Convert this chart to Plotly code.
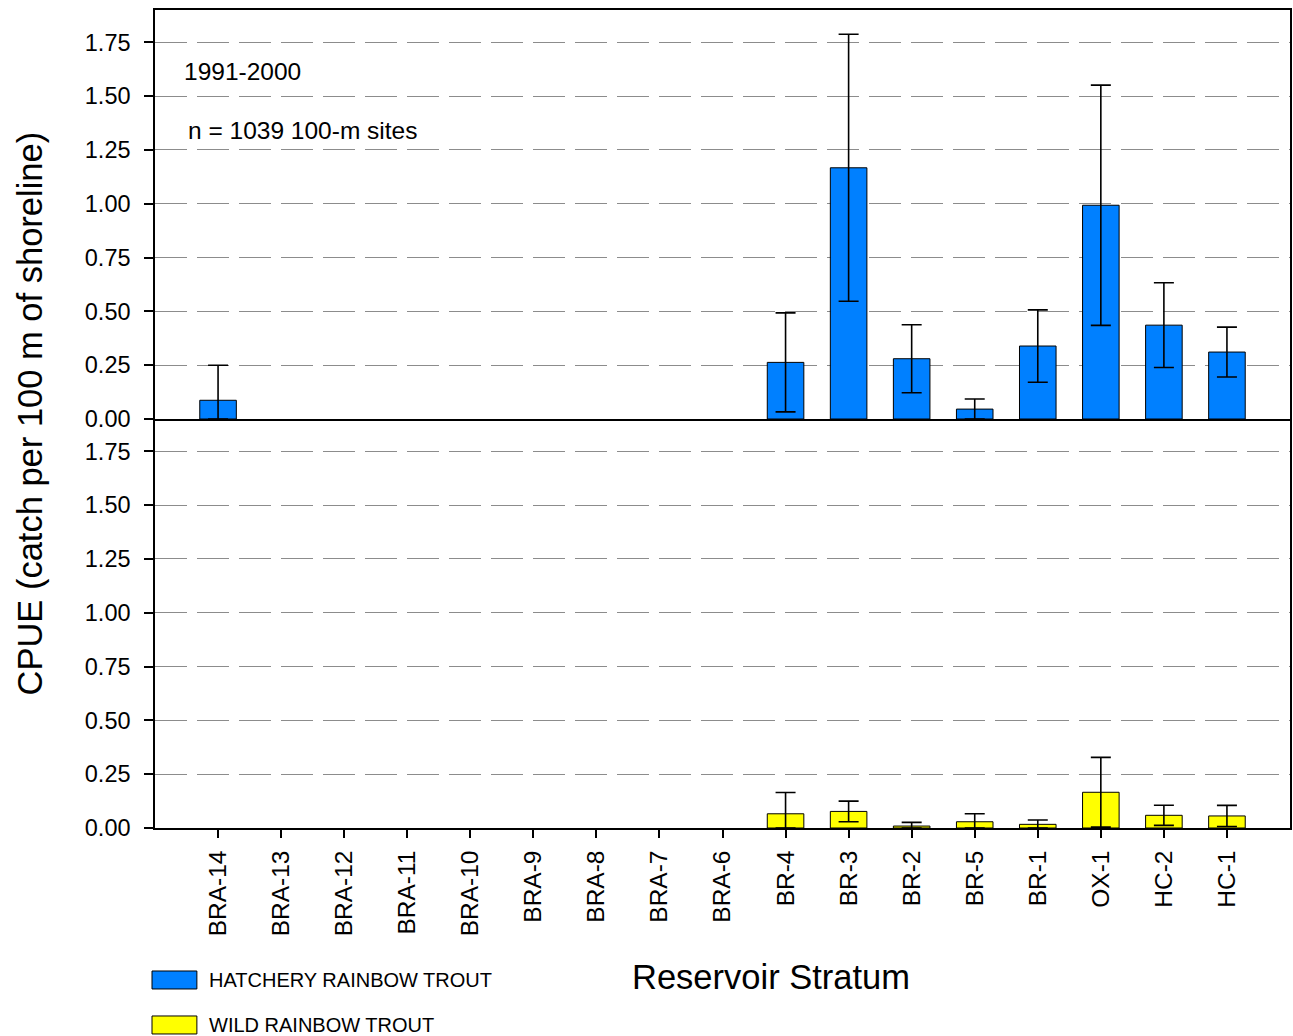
import numpy as np
import plotly.graph_objects as go
from plotly.subplots import make_subplots

categories = ["BRA-14", "BRA-13", "BRA-12", "BRA-11", "BRA-10", "BRA-9", "BRA-8", "BRA-7",
              "BRA-6", "BR-4", "BR-3", "BR-2", "BR-5", "BR-1", "OX-1", "HC-2", "HC-1"]

hatchery_cpue = [0.087, 0, 0, 0, 0, 0, 0, 0, 0, 0.263, 1.167, 0.280, 0.046, 0.339, 0.993, 0.436, 0.311]
hatchery_err = [0.163, 0, 0, 0, 0, 0, 0, 0, 0, 0.230, 0.620, 0.158, 0.047, 0.168, 0.558, 0.197, 0.116]

wild_cpue = [0, 0, 0, 0, 0, 0, 0, 0, 0, 0.066, 0.077, 0.009, 0.029, 0.017, 0.166, 0.059, 0.056]
wild_err = [0, 0, 0, 0, 0, 0, 0, 0, 0, 0.099, 0.048, 0.017, 0.037, 0.020, 0.162, 0.047, 0.049]

y_ticks = [0, 0.25, 0.5, 0.75, 1.0, 1.25, 1.5, 1.75]
y_ticktext = ["0.00", "0.25", "0.50", "0.75", "1.00", "1.25", "1.50", "1.75"]

FONT = "Liberation Sans, Arial, sans-serif"
BLUE = "#0080FF"
YELLOW = "#FFFF00"

fig = make_subplots(rows=2, cols=1, shared_xaxes=False, vertical_spacing=0)


def add_series(vals, errs, color, row):
    v = np.array(vals, dtype=float)
    e = np.array(errs, dtype=float)
    has = v > 0
    plus = np.where(has, e, np.nan)
    minus = np.where(has, np.minimum(e, v), np.nan)
    fig.add_trace(go.Bar(
        x=categories, y=v, width=0.58,
        marker=dict(color=color, line=dict(color="black", width=np.where(has, 1.0, 0.0))),
        error_y=dict(type="data", array=plus, arrayminus=minus, visible=True,
                     color="black", thickness=1.6, width=10),
        showlegend=False, hoverinfo="skip",
    ), row=row, col=1)


add_series(hatchery_cpue, hatchery_err, BLUE, 1)
add_series(wild_cpue, wild_err, YELLOW, 2)

common_x = dict(type="category", categoryorder="array", categoryarray=categories,
                range=[-1, 17], showline=True, linecolor="black", linewidth=1.5,
                showgrid=False, zeroline=False)
fig.update_xaxes(**common_x, mirror=True, ticks="", showticklabels=False, row=1, col=1)
fig.update_xaxes(**common_x, mirror=False, ticks="outside", ticklen=8, tickwidth=1.5,
                 tickcolor="black", tickangle=-90, ticklabelstandoff=3,
                 tickfont=dict(family=FONT, size=24.5, color="black"),
                 row=2, col=1)

common_y = dict(range=[0, 1.9], tickvals=y_ticks, ticktext=y_ticktext,
                ticks="outside", ticklen=9, tickwidth=1.5, tickcolor="black",
                ticklabelstandoff=9,
                showline=True, linecolor="black", linewidth=1.5, mirror=True,
                showgrid=True, gridcolor="#8c8c8c", gridwidth=1, griddash="32px,10px",
                zeroline=False, tickfont=dict(family=FONT, size=23.5, color="black"))
fig.update_yaxes(**common_y, row=1, col=1)
fig.update_yaxes(**common_y, row=2, col=1)

fig.update_layout(
    width=1293, height=1036,
    margin=dict(l=155, r=1, t=10, b=208),
    paper_bgcolor="white", plot_bgcolor="white",
    font=dict(family=FONT, color="black"),
)

fig.update_layout(yaxis=dict(domain=[0.5, 1.0]), yaxis2=dict(domain=[0.0, 0.5]))

annotations = [
    dict(text="1991-2000", x=0.0237, y=0.9254, xref="paper", yref="paper",
         xanchor="left", yanchor="middle", showarrow=False, font=dict(size=24.5)),
    dict(text="n = 1039 100-m sites", x=0.0273, y=0.8533, xref="paper", yref="paper",
         xanchor="left", yanchor="middle", showarrow=False, font=dict(size=24.5)),
    dict(text="CPUE (catch per 100 m of shoreline)", x=-0.1099, y=0.507, xref="paper",
         yref="paper", xanchor="center", yanchor="middle", textangle=-90,
         showarrow=False, font=dict(size=34.5)),
    dict(text="Reservoir Stratum", x=0.5427, y=-0.182, xref="paper", yref="paper",
         xanchor="center", yanchor="middle", showarrow=False, font=dict(size=34.5)),
    dict(text="HATCHERY RAINBOW TROUT", x=0.0457, y=-0.1858, xref="paper", yref="paper",
         xanchor="left", yanchor="middle", showarrow=False, font=dict(size=20)),
    dict(text="WILD RAINBOW TROUT", x=0.0457, y=-0.2408, xref="paper", yref="paper",
         xanchor="left", yanchor="middle", showarrow=False, font=dict(size=20)),
]
fig.update_layout(annotations=annotations)

shapes = [
    dict(type="rect", xref="paper", yref="paper", x0=-0.00264, x1=0.0369, y0=-0.1968, y1=-0.1748,
         fillcolor=BLUE, line=dict(color="black", width=1)),
    dict(type="rect", xref="paper", yref="paper", x0=-0.00264, x1=0.0369, y0=-0.2518, y1=-0.2298,
         fillcolor=YELLOW, line=dict(color="black", width=1)),
]
fig.update_layout(shapes=shapes)

fig.write_html("out.html", config={"displayModeBar": False},
               post_script="document.body.style.margin='0px';document.body.style.overflow='hidden';")
